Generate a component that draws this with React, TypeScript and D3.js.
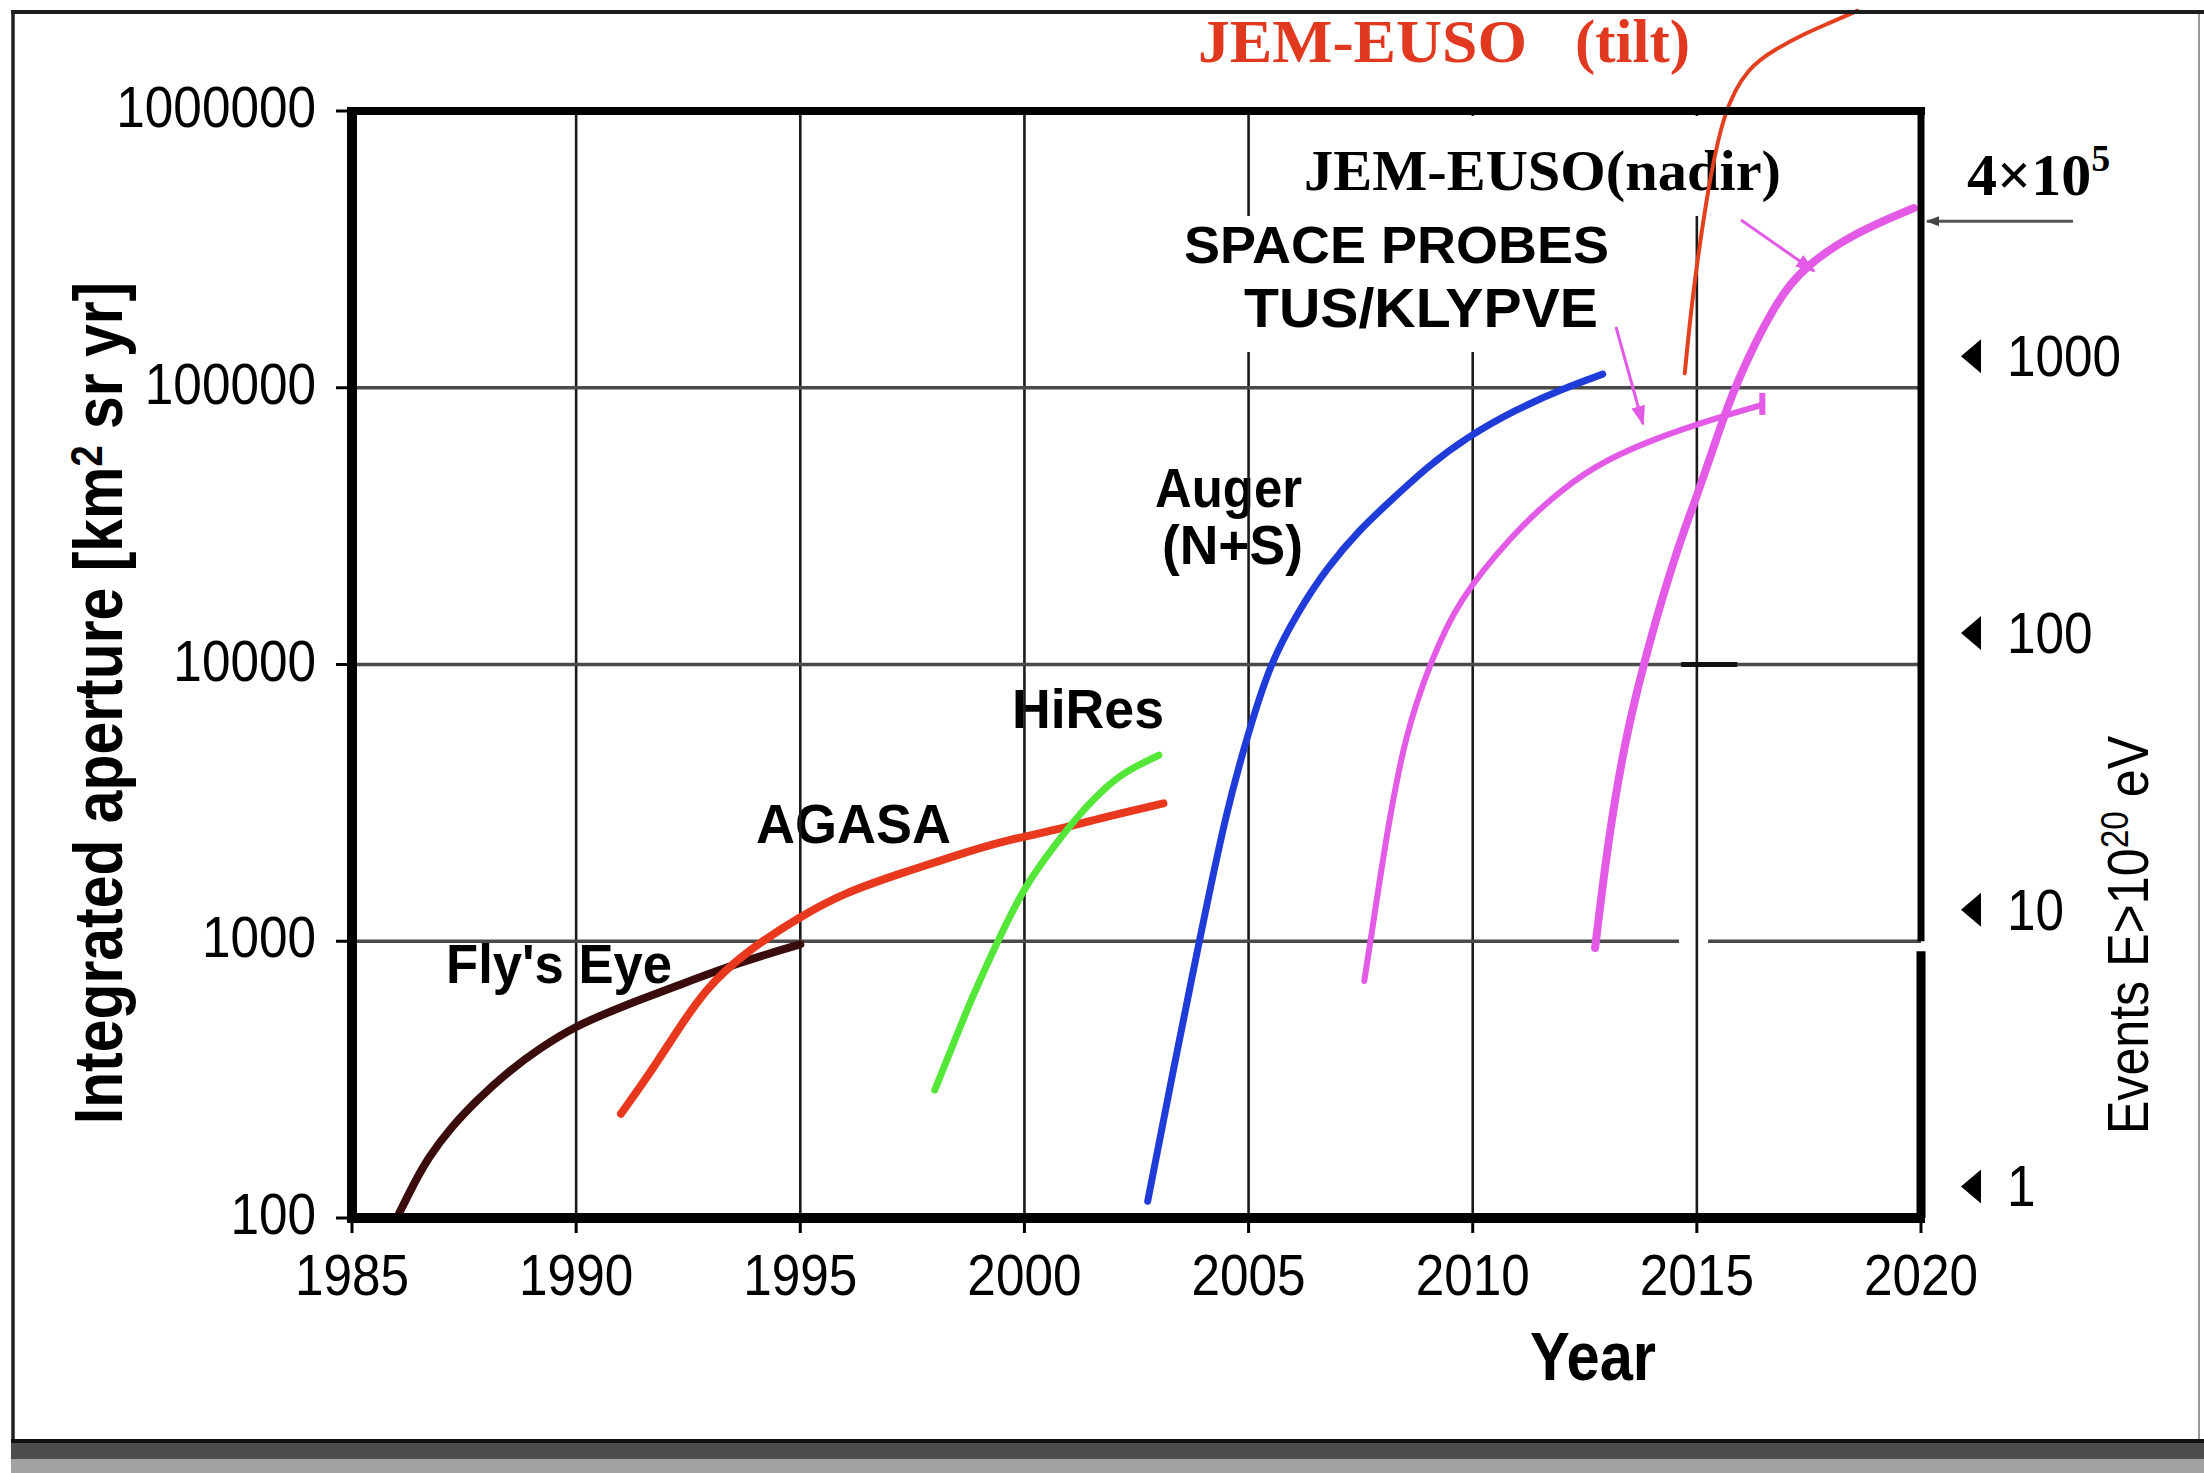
import React from 'react';
import * as d3 from 'd3';

// ---------- data ----------
const YEAR_TICKS = [1985, 1990, 1995, 2000, 2005, 2010, 2015, 2020];
const APERTURE_TICKS = [100, 1000, 10000, 100000, 1000000];
const EVENT_TICKS = [1, 10, 100, 1000];
const APERTURE_PER_EVENT = 130; // km^2 sr yr needed for one event above 1e20 eV
const NADIR_FINAL = 400000; // 4x10^5

const FLYS_EYE_YEARS = [1986.0, 1986.4, 1986.7, 1987.2, 1987.8, 1988.5, 1989.2, 1990.0, 1990.8, 1991.3, 1992.2, 1993.6, 1995.0];
const FLYS_EYE_APERTURE = [100, 135, 165, 212, 268, 340, 412, 495, 560, 605, 685, 835, 975];

const AGASA_YEARS = [1991.0, 1991.6, 1992.2, 1992.9, 1993.8, 1995.0, 1996.0, 1997.2, 1998.5, 1999.5, 2000.7, 2001.7, 2003.1];
const AGASA_APERTURE = [238, 325, 460, 680, 920, 1230, 1500, 1750, 2050, 2300, 2520, 2790, 3150];

const HIRES_YEARS = [1998.0, 1998.4, 1998.8, 1999.4, 2000.0, 2000.7, 2001.2, 2001.8, 2002.3, 2003.0];
const HIRES_APERTURE = [290, 420, 610, 1000, 1580, 2250, 2850, 3600, 4150, 4700];

const AUGER_YEARS = [2002.75, 2003.3, 2003.9, 2004.5, 2005.0, 2005.47, 2006.1, 2006.75, 2007.5, 2008.15, 2009.0, 2009.85, 2011.0, 2012.0, 2012.9];
const AUGER_APERTURE = [115, 330, 1000, 2950, 5700, 10000, 15500, 22400, 31000, 38800, 52000, 66000, 84000, 99000, 112000];

const TUS_YEARS = [2007.58, 2007.72, 2008.08, 2008.5, 2009.05, 2009.67, 2010.93, 2011.71, 2012.66, 2013.95, 2015.52, 2016.46];
const TUS_APERTURE = [718, 1000, 2450, 5650, 10100, 17100, 29900, 39300, 51800, 64700, 78500, 86700];

const NADIR_YEARS = [2012.73, 2013.04, 2013.43, 2013.82, 2014.21, 2014.69, 2014.97, 2015.43, 2015.83, 2016.77, 2017.4, 2018.5, 2019.84];
const NADIR_APERTURE = [946, 2460, 5650, 10100, 17100, 29900, 39300, 64700, 101000, 207000, 274000, 362000, 446000];

const TILT_YEARS = [2014.73, 2014.89, 2015.2, 2015.59, 2016.14, 2016.77, 2017.4, 2017.87, 2018.58];
const TILT_APERTURE = [112700, 207000, 476000, 1010000, 1440000, 1680000, 1900000, 2050000, 2300000];

// ---------- look ----------
const SANS = "'Liberation Sans', Arial, Helvetica, sans-serif";
const SERIF = "'Liberation Serif', 'Times New Roman', Times, serif";
const MAGENTA = '#e35ae6';

const SERIES = [
  { key: 'flys', years: FLYS_EYE_YEARS, values: FLYS_EYE_APERTURE, color: '#3a0c0c', width: 8 },
  { key: 'agasa', years: AGASA_YEARS, values: AGASA_APERTURE, color: '#e8381e', width: 8 },
  { key: 'hires', years: HIRES_YEARS, values: HIRES_APERTURE, color: '#55e63a', width: 7 },
  { key: 'auger', years: AUGER_YEARS, values: AUGER_APERTURE, color: '#1f3bd8', width: 7 },
  { key: 'tus', years: TUS_YEARS, values: TUS_APERTURE, color: MAGENTA, width: 6 },
  { key: 'nadir', years: NADIR_YEARS, values: NADIR_APERTURE, color: MAGENTA, width: 8 },
  { key: 'tilt', years: TILT_YEARS, values: TILT_APERTURE, color: '#e3401f', width: 4 },
];

const W = 2204;
const H = 1473;
const LEFT = 352;
const RIGHT = 1921;
const TOP = 111;
const BOTTOM = 1218;

const x = d3.scaleLinear().domain([1985, 2020]).range([LEFT, RIGHT]);
const y = d3.scaleLog().domain([100, 1000000]).range([BOTTOM, TOP]);
const ev = d3
  .scaleLog()
  .domain([1, 1000])
  .range([y(APERTURE_PER_EVENT), y(APERTURE_PER_EVENT * 1000)]);

const line = d3
  .line<[number, number]>()
  .x((d) => x(d[0]))
  .y((d) => y(d[1]))
  .curve(d3.curveBasis);

const TICK_FONT = 57;
const TICK_SX = 0.9;

function Label(props: {
  x: number;
  y: number;
  len?: number;
  size: number;
  family?: string;
  weight?: string | number;
  fill?: string;
  children: React.ReactNode;
}) {
  const { len, size, family = SANS, weight = 'bold', fill = '#000', children } = props;
  return (
    <text
      x={props.x}
      y={props.y}
      fontFamily={family}
      fontSize={size}
      fontWeight={weight}
      fill={fill}
      textLength={len}
      lengthAdjust={len ? 'spacingAndGlyphs' : undefined}
    >
      {children}
    </text>
  );
}

export default function App() {
  const gridYears = YEAR_TICKS.slice(1, -1);
  const gridAps = APERTURE_TICKS.slice(1, -1);

  return (
    <svg
      width={W}
      height={H}
      viewBox={`0 0 ${W} ${H}`}
      style={{ position: 'absolute', left: 0, top: 0, display: 'block', background: '#fff' }}
    >
      <defs>
        <marker id="arrMag" markerUnits="userSpaceOnUse" markerWidth={22} markerHeight={18} refX={18} refY={9} orient="auto">
          <path d="M0,2 L20,9 L0,16 Z" fill={MAGENTA} />
        </marker>
        <marker id="arrGray" markerUnits="userSpaceOnUse" markerWidth={14} markerHeight={12} refX={12} refY={6} orient="auto">
          <path d="M0,1 L13,6 L0,11 Z" fill="#444" />
        </marker>
      </defs>

      <rect x={0} y={0} width={W} height={H} fill="#fff" />

      {/* experiment labels that sit under the grid */}
      <Label x={446} y={983} len={226} size={56}>Fly's Eye</Label>
      <Label x={756} y={843} len={195} size={56}>AGASA</Label>
      <Label x={1012} y={728} len={152} size={56}>HiRes</Label>
      <Label x={1155} y={507} len={147} size={56}>Auger</Label>
      <Label x={1162} y={564} len={141} size={56}>(N+S)</Label>

      {/* grid */}
      {gridYears.map((yr) => (
        <line key={'gx' + yr} x1={x(yr)} x2={x(yr)} y1={TOP} y2={BOTTOM} stroke="#1a1a1a" strokeWidth={2.6} />
      ))}
      {gridAps.map((a) =>
        a === 1000 ? (
          <g key={'gy' + a}>
            <line x1={LEFT} x2={x(2014.6)} y1={y(a)} y2={y(a)} stroke="#4a4a4a" strokeWidth={3.6} />
            <line x1={x(2015.25)} x2={RIGHT} y1={y(a)} y2={y(a)} stroke="#4a4a4a" strokeWidth={3.6} />
          </g>
        ) : (
          <line key={'gy' + a} x1={LEFT} x2={RIGHT} y1={y(a)} y2={y(a)} stroke="#4a4a4a" strokeWidth={3.6} />
        )
      )}
      <line x1={x(2014.65)} x2={x(2015.9)} y1={y(10000)} y2={y(10000)} stroke="#111" strokeWidth={5} />

      {/* label panels that mask the grid */}
      <rect x={1290} y={116} width={505} height={100} fill="#fff" />
      <rect x={1176} y={216} width={445} height={136} fill="#fff" />
      <Label x={1304} y={190} len={477} size={58} family={SERIF}>JEM-EUSO(nadir)</Label>
      <Label x={1184} y={263} len={425} size={52}>SPACE PROBES</Label>
      <Label x={1244} y={327} len={354} size={56}>TUS/KLYPVE</Label>

      {/* curves */}
      {SERIES.map((s) => (
        <path
          key={s.key}
          d={line(s.years.map((yr, i) => [yr, s.values[i]] as [number, number])) || ''}
          fill="none"
          stroke={s.color}
          strokeWidth={s.width}
          strokeLinecap="round"
          strokeLinejoin="round"
        />
      ))}
      <line x1={x(2016.46)} x2={x(2016.46)} y1={y(86700) - 12} y2={y(86700) + 10} stroke={MAGENTA} strokeWidth={6} />

      {/* pointer arrows */}
      <line x1={1616} y1={327} x2={1643} y2={424} stroke={MAGENTA} strokeWidth={3} markerEnd="url(#arrMag)" />
      <line x1={1741} y1={220} x2={1814} y2={271} stroke={MAGENTA} strokeWidth={3} markerEnd="url(#arrMag)" />

      {/* axes frame */}
      <line x1={LEFT} x2={LEFT} y1={TOP - 4} y2={BOTTOM + 5} stroke="#000" strokeWidth={10} />
      <line x1={LEFT - 5} x2={RIGHT + 4} y1={BOTTOM} y2={BOTTOM} stroke="#000" strokeWidth={10} />
      <line x1={LEFT - 5} x2={RIGHT + 4} y1={TOP} y2={TOP} stroke="#000" strokeWidth={8} />
      <line x1={RIGHT} x2={RIGHT} y1={TOP} y2={y(1000)} stroke="#000" strokeWidth={7} />
      <line x1={RIGHT} x2={RIGHT} y1={y(1000) + 10} y2={BOTTOM} stroke="#000" strokeWidth={9} />

      {/* left axis ticks and labels */}
      {APERTURE_TICKS.map((a) => (
        <g key={'yt' + a}>
          <line x1={LEFT - 16} x2={LEFT} y1={y(a)} y2={y(a)} stroke="#000" strokeWidth={3} />
          <text
            transform={`translate(316,${y(a) + 16}) scale(${TICK_SX},1)`}
            textAnchor="end"
            fontFamily={SANS}
            fontSize={TICK_FONT}
            fill="#000"
          >
            {String(a)}
          </text>
        </g>
      ))}

      {/* bottom axis ticks and labels */}
      {YEAR_TICKS.map((yr) => (
        <g key={'xt' + yr}>
          <line x1={x(yr)} x2={x(yr)} y1={BOTTOM} y2={BOTTOM + 15} stroke="#000" strokeWidth={3} />
          <text
            transform={`translate(${x(yr)},1295) scale(${TICK_SX},1)`}
            textAnchor="middle"
            fontFamily={SANS}
            fontSize={TICK_FONT}
            fill="#000"
          >
            {String(yr)}
          </text>
        </g>
      ))}

      {/* event-count scale on the right */}
      {EVENT_TICKS.map((e) => (
        <g key={'ev' + e}>
          <path d={`M1961,${ev(e)} L1981,${ev(e) - 17} L1981,${ev(e) + 17} Z`} fill="#000" />
          <text
            transform={`translate(2007,${ev(e) + 20}) scale(${TICK_SX},1)`}
            fontFamily={SANS}
            fontSize={TICK_FONT}
            fill="#000"
          >
            {String(e)}
          </text>
        </g>
      ))}

      {/* 4x10^5 marker */}
      <line x1={2073} x2={RIGHT + 6} y1={y(NADIR_FINAL)} y2={y(NADIR_FINAL)} stroke="#555" strokeWidth={3} markerEnd="url(#arrGray)" />
      <text x={1967} y={195} fontFamily={SERIF} fontWeight="bold" fontSize={60} fill="#000">
        4×10<tspan fontSize={38} dy={-24}>5</tspan>
      </text>

      {/* axis titles */}
      <text
        transform={`translate(122,703) rotate(-90) scale(0.866,1)`}
        textAnchor="middle"
        fontFamily={SANS}
        fontWeight="bold"
        fontSize={68}
        fill="#000"
      >
        Integrated aperture [km<tspan fontSize={44} dy={-20}>2</tspan>
        <tspan dy={20}> sr yr]</tspan>
      </text>
      <text
        transform={`translate(2148,935) rotate(-90) scale(0.88,1)`}
        textAnchor="middle"
        fontFamily={SANS}
        fontSize={57}
        fill="#000"
      >
        Events E&gt;10<tspan fontSize={38} dy={-20}>20</tspan>
        <tspan dy={20}> eV</tspan>
      </text>
      <Label x={1530} y={1380} len={126} size={68}>Year</Label>

      {/* tilted-mode title above the frame */}
      <Label x={1198} y={62} len={329} size={62} family={SERIF} fill="#e0391f">JEM-EUSO</Label>
      <Label x={1575} y={62} len={115} size={62} family={SERIF} fill="#e0391f">(tilt)</Label>

      {/* slide border */}
      <line x1={11} x2={W} y1={12} y2={12} stroke="#1e1e1e" strokeWidth={4} />
      <line x1={13} x2={13} y1={10} y2={H} stroke="#222" strokeWidth={3.5} />
      <line x1={2199} x2={2199} y1={14} y2={1440} stroke="#9a9a9a" strokeWidth={2} />
      <rect x={11} y={1439} width={W - 11} height={4} fill="#111" />
      <rect x={11} y={1443} width={W - 11} height={16} fill="#4d4d4d" />
      <rect x={11} y={1459} width={W - 11} height={14} fill="#a2a2a2" />
    </svg>
  );
}
